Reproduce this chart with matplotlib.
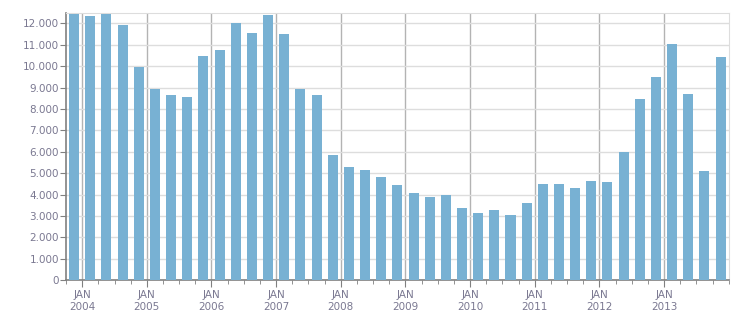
import matplotlib.pyplot as plt
import matplotlib.ticker as mticker
import numpy as np

# quarterly values, Q4 2003 .. Q4 2013
values = [12430, 12340, 12430, 11920, 9960, 8930, 8650, 8560, 10470, 10750,
          12010, 11540, 12390, 11500, 8930, 8650, 5850, 5290, 5150, 4820,
          4450, 4080, 3890, 3980, 3380, 3140, 3280, 3050, 3610, 4500,
          4500, 4310, 4640, 4590, 5990, 8460, 9490, 11030, 8700, 5100, 10420]
years = list(range(2004, 2014))
year_labels = ['JAN\n%d' % y for y in years]

bar_color = '#78b1d3'
text_color = '#7a7891'

x = 2003.75 + 0.125 + 0.25 * np.arange(len(values))

fig = plt.figure(figsize=(7.51, 3.13), dpi=100)
ax = fig.add_axes([0.0879, 0.1045, 0.8824, 0.853])
ax.bar(x, values, width=0.155, color=bar_color, zorder=3)

ax.set_xlim(2003.75, 2014.0)
ax.set_ylim(0, 12470)

ax.set_yticks(range(0, 13000, 1000))
ax.yaxis.set_major_formatter(mticker.FuncFormatter(lambda v, p: '{:,.0f}'.format(v).replace(',', '.')))
ax.set_xticks(years)
ax.set_xticklabels(year_labels, linespacing=1.3)
ax.set_xticks(np.arange(2003.75, 2014.01, 0.25), minor=True)

ax.grid(axis='y', color='#dddddd', linewidth=1, zorder=0)
ax.grid(axis='x', which='major', color='#b3b3b3', linewidth=1, zorder=1)

for side in ['top', 'right']:
    ax.spines[side].set_color('#dddddd')
for side in ['left', 'bottom']:
    ax.spines[side].set_color('#808080')
    ax.spines[side].set_linewidth(1.2)

ax.tick_params(axis='y', length=4, color='#808080', labelcolor=text_color, labelsize=7.5, pad=1)
ax.tick_params(axis='x', which='major', length=5, color='#808080', labelcolor=text_color, labelsize=7.5, pad=2)
ax.tick_params(axis='x', which='minor', length=3, color='#808080')
for lab in ax.get_xticklabels():
    lab.set_ha('center')

plt.savefig('out.png', dpi=100)
